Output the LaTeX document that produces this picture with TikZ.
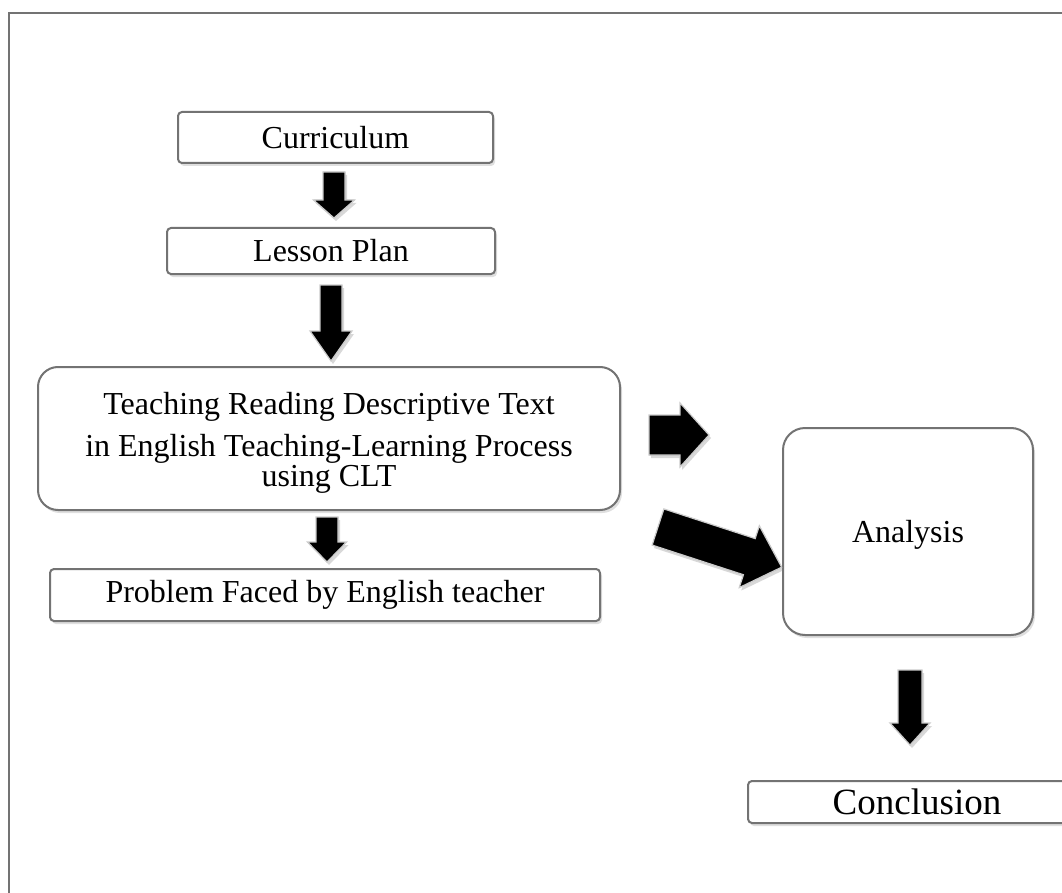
\documentclass[tikz,border=0pt]{standalone}
\usepackage{fontspec}
\setmainfont{Liberation Serif}
\usetikzlibrary{shadows}
\tikzset{
  box/.style={draw=black!55, line width=2pt, rounded corners=4pt, fill=white,
    drop shadow={opacity=0.25, shadow xshift=2pt, shadow yshift=-3pt},
    font=\fontsize{32}{30}\selectfont, inner sep=0pt, align=center},
  bigbox/.style={box, rounded corners=20pt},
  blockarrow/.style={fill=black, draw=black!20, line width=1.2pt, line join=miter,
    drop shadow={opacity=0.3, shadow xshift=2pt, shadow yshift=-3pt}},
  pics/barrow/.style args={#1/#2/#3/#4}{code={
    \filldraw[blockarrow] (0,-#2/2) -- (#1-#4,-#2/2) -- (#1-#4,-#3/2) -- (#1,0)
      -- (#1-#4,#3/2) -- (#1-#4,#2/2) -- (0,#2/2) -- cycle;
  }},
}
\begin{document}
\begin{tikzpicture}[x=1pt,y=-1pt]
\useasboundingbox (0,0) rectangle (1062,893);
\clip (0,0) rectangle (1062,893);
\fill[white] (0,0) rectangle (1062,893);
\draw[black!55, line width=2pt] (9,13) rectangle (1100,930);

\node[box, minimum width=315pt, minimum height=51pt] (cur) at (335.5,137.5) {Curriculum};
\node[box, minimum width=328pt, minimum height=46pt] (lesson) at (331,251) {Lesson Plan};
\node[bigbox, minimum width=582pt, minimum height=143pt] (teach) at (329,438.5)
  {\rule{0pt}{30pt}Teaching Reading Descriptive Text\\[12pt]in English Teaching-Learning Process\\using CLT};
\node[box, minimum width=550pt, minimum height=52pt] (prob) at (325,595) {Problem Faced by English teacher};
\node[bigbox, rounded corners=22pt, minimum width=250pt, minimum height=207pt] (anal) at (908,531.5) {\rule{0pt}{28pt}Analysis};
\node[box, font=\fontsize{37}{37}\selectfont, minimum width=338pt, minimum height=42pt] (concl) at (917,802) {Conclusion};

\coordinate (a1) at (334,172);
\coordinate (a2) at (331,285);
\coordinate (a3) at (327,517);
\coordinate (a4) at (649,435);
\coordinate (a5) at (658,527);
\coordinate (a6) at (910,670);
\pic[rotate=-90] at (a1) {barrow={46/22/41/18}};
\pic[rotate=-90] at (a2) {barrow={76/22/42/30}};
\pic[rotate=-90] at (a3) {barrow={45/22/39/20}};
\pic at (a4) {barrow={60/40/64/29}};
\pic[rotate=-18] at (a5) {barrow={130/38/65/34}};
\pic[rotate=-90] at (a6) {barrow={75/24/40/22}};
\end{tikzpicture}
\end{document}
